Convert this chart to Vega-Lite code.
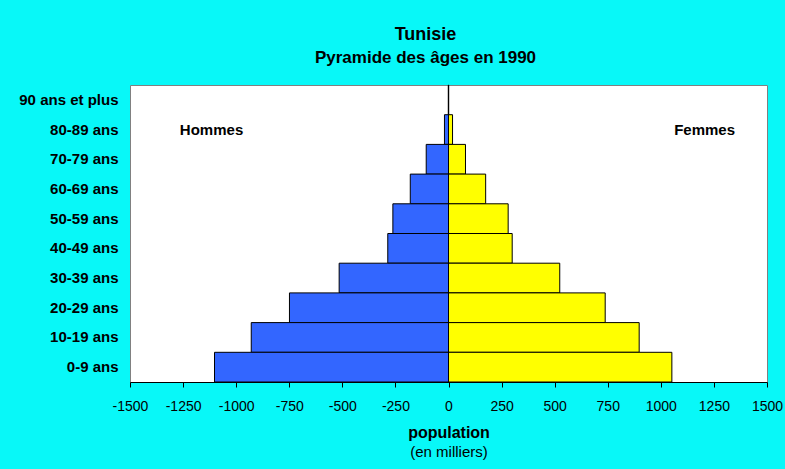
{
  "$schema": "https://vega.github.io/schema/vega-lite/v6.json",
  "width": 637,
  "height": 297,
  "autosize": {"type": "none"},
  "padding": {"left": 130, "top": 85, "right": 18, "bottom": 87},
  "background": "#08F8F8",
  "config": {
    "font": "Liberation Sans",
    "view": {"fill": "white", "stroke": "#808080", "strokeWidth": 1}
  },
  "title": {
    "text": "Tunisie",
    "subtitle": "Pyramide des âges en 1990",
    "fontSize": 18,
    "fontWeight": "bold",
    "subtitleFontSize": 17,
    "subtitleFontWeight": "bold",
    "subtitleColor": "black",
    "color": "black",
    "subtitlePadding": 6,
    "anchor": "middle",
    "dx": -23,
    "offset": 19
  },
  "datasets": {
    "pop": [
      {"age": "90 ans et plus", "sexe": "Hommes", "valeur": -1},
      {"age": "80-89 ans", "sexe": "Hommes", "valeur": -19},
      {"age": "70-79 ans", "sexe": "Hommes", "valeur": -105},
      {"age": "60-69 ans", "sexe": "Hommes", "valeur": -180},
      {"age": "50-59 ans", "sexe": "Hommes", "valeur": -262},
      {"age": "40-49 ans", "sexe": "Hommes", "valeur": -286},
      {"age": "30-39 ans", "sexe": "Hommes", "valeur": -515},
      {"age": "20-29 ans", "sexe": "Hommes", "valeur": -749},
      {"age": "10-19 ans", "sexe": "Hommes", "valeur": -929},
      {"age": "0-9 ans", "sexe": "Hommes", "valeur": -1102},
      {"age": "90 ans et plus", "sexe": "Femmes", "valeur": 1},
      {"age": "80-89 ans", "sexe": "Femmes", "valeur": 19},
      {"age": "70-79 ans", "sexe": "Femmes", "valeur": 80},
      {"age": "60-69 ans", "sexe": "Femmes", "valeur": 175},
      {"age": "50-59 ans", "sexe": "Femmes", "valeur": 281},
      {"age": "40-49 ans", "sexe": "Femmes", "valeur": 300},
      {"age": "30-39 ans", "sexe": "Femmes", "valeur": 524},
      {"age": "20-29 ans", "sexe": "Femmes", "valeur": 738},
      {"age": "10-19 ans", "sexe": "Femmes", "valeur": 898},
      {"age": "0-9 ans", "sexe": "Femmes", "valeur": 1052}
    ],
    "labels": [
      {"texte": "Hommes", "x": -1116, "age": "80-89 ans"},
      {"texte": "Femmes", "x": 1206, "age": "80-89 ans"}
    ]
  },
  "layer": [
    {
      "layer": [
        {
          "data": {"name": "pop"},
          "mark": {"type": "bar", "stroke": "black", "strokeWidth": 1},
          "encoding": {
            "y": {
              "field": "age",
              "type": "nominal",
              "scale": {
                "domain": ["90 ans et plus", "80-89 ans", "70-79 ans", "60-69 ans", "50-59 ans", "40-49 ans", "30-39 ans", "20-29 ans", "10-19 ans", "0-9 ans"],
                "paddingInner": 0,
                "paddingOuter": 0
              },
              "axis": {
                "title": null,
                "ticks": false,
                "domain": false,
                "labelFontSize": 15,
                "labelFontWeight": "bold",
                "labelColor": "black",
                "labelPadding": 12
              }
            },
            "x": {
              "field": "valeur",
              "type": "quantitative",
              "scale": {"domain": [-1500, 1500], "nice": false},
              "axis": {
                "values": [-1500, -1250, -1000, -750, -500, -250, 0, 250, 500, 750, 1000, 1250, 1500],
                "labelExpr": "'' + datum.value",
                "grid": false,
                "domainColor": "black",
                "tickColor": "black",
                "tickSize": 5,
                "labelFontSize": 14,
                "labelColor": "black",
                "labelPadding": 12,
                "labelFlush": false,
                "labelOverlap": false,
                "title": "population",
                "titleFontSize": 16,
                "titleFontWeight": "bold",
                "titleColor": "black",
                "titlePadding": 11
              }
            },
            "color": {
              "field": "sexe",
              "type": "nominal",
              "scale": {"domain": ["Hommes", "Femmes"], "range": ["#3366FF", "#FFFF00"]},
              "legend": null
            }
          }
        },
        {
          "data": {"name": "labels"},
          "mark": {"type": "text", "fontSize": 15, "fontWeight": "bold", "color": "black"},
          "encoding": {
            "x": {"field": "x", "type": "quantitative", "scale": {"domain": [-1500, 1500], "nice": false}},
            "y": {"field": "age", "type": "nominal"},
            "text": {"field": "texte"}
          }
        }
      ]
    },
    {
      "data": {"values": [{}]},
      "mark": {"type": "rule", "color": "black", "strokeWidth": 1},
      "encoding": {
        "x": {
          "datum": 0,
          "type": "quantitative",
          "scale": {"domain": [-1500, 1500], "nice": false},
          "axis": {
            "orient": "bottom",
            "labels": false,
            "ticks": false,
            "domain": false,
            "grid": false,
            "title": "(en milliers)",
            "titleFontSize": 15,
            "titleFontWeight": "normal",
            "titleColor": "black",
            "titleY": 62
          }
        }
      }
    }
  ],
  "resolve": {"scale": {"x": "independent"}, "axis": {"x": "independent"}}
}
